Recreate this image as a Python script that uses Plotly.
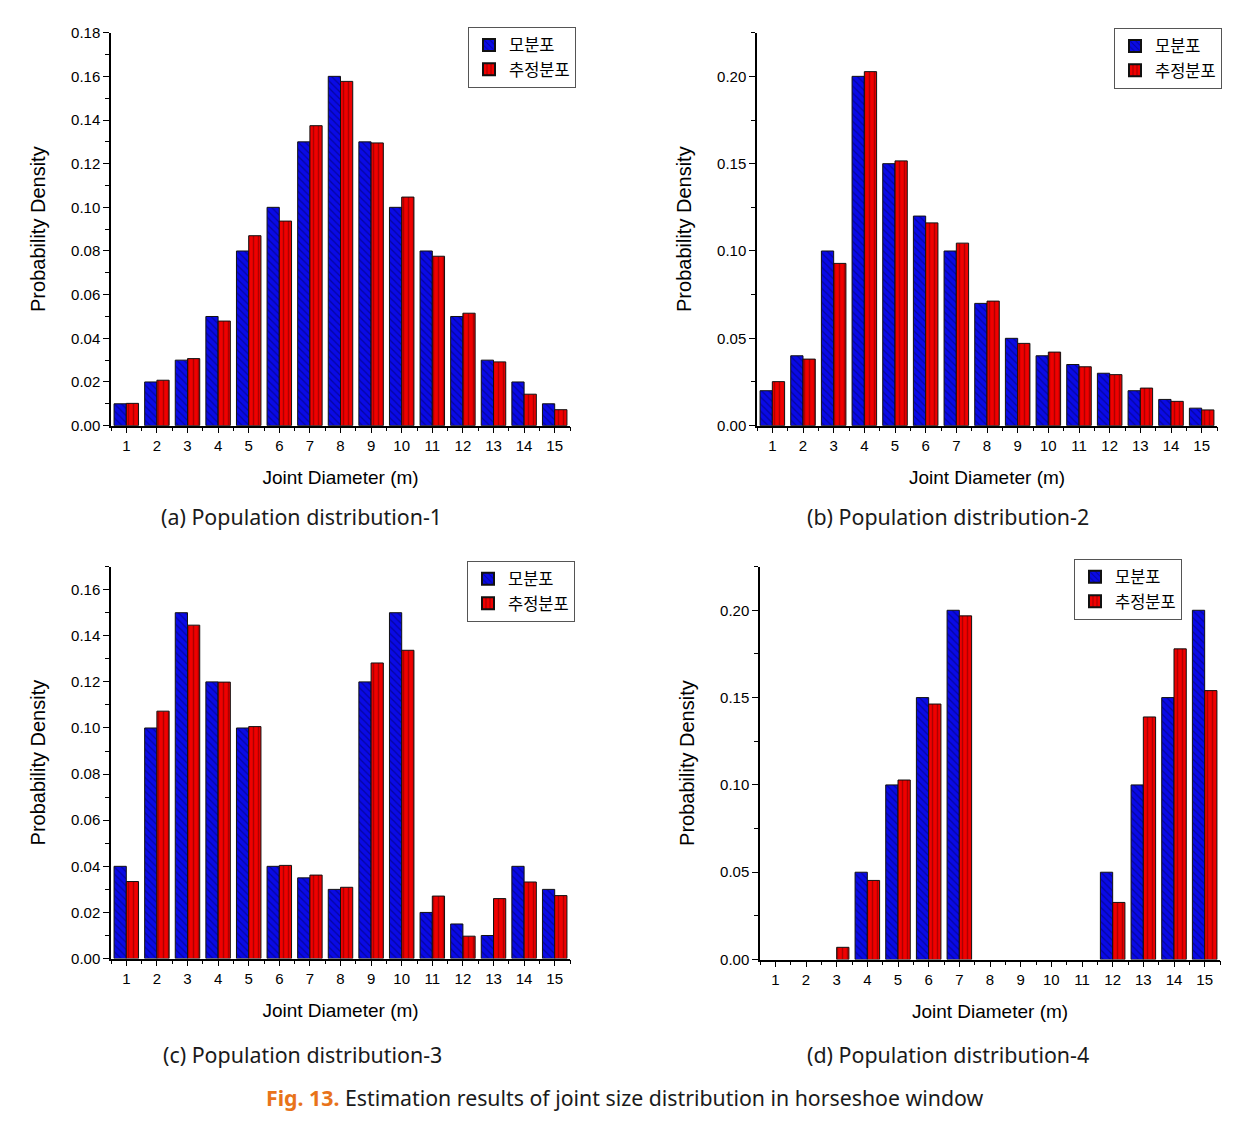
import plotly.graph_objects as go

categories = list(range(1, 15 + 1))
tick_labels = [str(c) for c in categories]

pop1 = [0.01, 0.02, 0.03, 0.05, 0.08, 0.10, 0.13, 0.16, 0.13, 0.10, 0.08, 0.05, 0.03, 0.02, 0.01]
est1 = [0.0102, 0.0208, 0.0307, 0.0479, 0.0870, 0.0937, 0.1374, 0.1577, 0.1295, 0.1047, 0.0776, 0.0515, 0.0292, 0.0144, 0.0073]

pop2 = [0.02, 0.04, 0.10, 0.20, 0.15, 0.12, 0.10, 0.07, 0.05, 0.04, 0.035, 0.03, 0.02, 0.015, 0.01]
est2 = [0.0252, 0.0381, 0.0929, 0.2027, 0.1516, 0.1161, 0.1045, 0.0713, 0.0471, 0.0421, 0.0337, 0.0292, 0.0215, 0.0139, 0.0090]

pop3 = [0.04, 0.10, 0.15, 0.12, 0.10, 0.04, 0.035, 0.03, 0.12, 0.15, 0.02, 0.015, 0.01, 0.04, 0.03]
est3 = [0.0334, 0.1073, 0.1446, 0.1199, 0.1006, 0.0404, 0.0362, 0.0309, 0.1282, 0.1337, 0.0271, 0.0097, 0.0260, 0.0332, 0.0273]

pop4 = [0, 0, 0, 0.05, 0.10, 0.15, 0.20, 0, 0, 0, 0, 0.05, 0.10, 0.15, 0.20]
est4 = [0, 0, 0.0070, 0.0453, 0.1028, 0.1463, 0.1968, 0, 0, 0, 0, 0.0327, 0.1389, 0.1779, 0.1540]

series_names = ["모분포", "추정분포"]
captions = ["(a) Population distribution-1", "(b) Population distribution-2",
            "(c) Population distribution-3", "(d) Population distribution-4"]
y_max = [0.18, 0.225, 0.17, 0.225]
y_dtick = [0.02, 0.05, 0.02, 0.05]

W, H = 1254, 1121
Y_OFF, Y_SCALE = 9.3, 0.985
def px(x): return x / W
def py(y): return 1 - ((y - Y_OFF) / Y_SCALE) / H

# panel geometry in reference pixels: (left, right, top, bottom)
panels = [(111, 570, 33, 426), (757, 1217, 33, 426), (111, 570, 567, 959), (760, 1220, 567, 960)]
legend_pos = [(576, 27), (1222, 28), (575, 561), (1182, 559)]
caption_pos = [(301, 517), (948, 517), (302, 1055), (948, 1055)]

data = [(pop1, est1), (pop2, est2), (pop3, est3), (pop4, est4)]

fig = go.Figure()
layout = {}
AX_FONT = "Liberation Sans, Arial, sans-serif"
for i, ((p, e), (l, r, t, b)) in enumerate(zip(data, panels)):
    n = "" if i == 0 else str(i + 1)
    leg = "legend" if i == 0 else f"legend{i+1}"
    fig.add_trace(go.Bar(
        x=categories, y=p, name=series_names[0], xaxis="x" + n, yaxis="y" + n, legend=leg,
        marker=dict(color="#0A0AE6", line=dict(color="#111111", width=[1 if v > 0 else 0 for v in p]),
                    pattern=dict(shape="\\", fgcolor="#00005A", size=5, solidity=0.25, fillmode="overlay")),
    ))
    fig.add_trace(go.Bar(
        x=categories, y=e, name=series_names[1], xaxis="x" + n, yaxis="y" + n, legend=leg,
        marker=dict(color="#F00000", line=dict(color="#111111", width=[1 if v > 0 else 0 for v in e]),
                    pattern=dict(shape="|", fgcolor="#6A0000", size=5, solidity=0.3, fillmode="overlay")),
    ))
    layout["xaxis" + n] = dict(
        domain=[px(l), px(r)], anchor="y" + n, range=[0.5, 15.5],
        tickmode="array", tickvals=categories, ticktext=tick_labels,
        showline=True, linecolor="black", linewidth=1.5, ticks="outside", ticklen=6, tickwidth=1.3,
        tickcolor="black", showgrid=False, zeroline=False,
        tickfont=dict(family=AX_FONT, size=15, color="black"),
        minor=dict(tickvals=[c + 0.5 for c in [0] + categories], ticks="outside", ticklen=4, tickwidth=1.2, tickcolor="black"),
        title=dict(text="Joint Diameter (m)", font=dict(family=AX_FONT, size=19, color="black"), standoff=17),
    )
    layout["yaxis" + n] = dict(
        domain=[py(b), py(t)], anchor="x" + n, range=[0, y_max[i]],
        dtick=y_dtick[i], tick0=0, tickformat=".2f",
        showline=True, linecolor="black", linewidth=1.5, ticks="outside", ticklen=6, tickwidth=1.3,
        tickcolor="black", showgrid=False, zeroline=False,
        tickfont=dict(family=AX_FONT, size=15, color="black"),
        minor=dict(dtick=y_dtick[i] / 2, ticks="outside", ticklen=4, tickwidth=1.2, tickcolor="black"),
        title=dict(text="Probability Density", font=dict(family=AX_FONT, size=20, color="black"), standoff=20),
    )
    lx, ly = legend_pos[i]
    layout[leg] = dict(
        x=px(lx), y=py(ly), xanchor="right", yanchor="top",
        bgcolor="white", bordercolor="#555555", borderwidth=1,
        font=dict(family="Noto Sans CJK KR, sans-serif", size=16.5, color="black"),
        tracegroupgap=0, itemsizing="constant",
    )

annotations = []
for (cx, cy), cap in zip(caption_pos, captions):
    annotations.append(dict(
        x=px(cx), y=py(cy), xref="paper", yref="paper", text=cap, showarrow=False,
        xanchor="center", yanchor="middle",
        font=dict(family="Noto Sans, sans-serif", size=21.4, color="#1A1A1A"),
    ))
annotations.append(dict(
    x=px(625), y=py(1098), xref="paper", yref="paper", showarrow=False,
    xanchor="center", yanchor="middle",
    text="<b><span style='color:#E8731A'>Fig. 13.</span></b> Estimation results of joint size distribution in horseshoe window",
    font=dict(family="Noto Sans, sans-serif", size=21.3, color="#1A1A1A"),
))

fig.update_layout(
    width=W, height=H, margin=dict(l=0, r=0, t=0, b=0),
    paper_bgcolor="white", plot_bgcolor="white",
    barmode="group", bargap=0.2, bargroupgap=0,
    annotations=annotations, **layout,
)
fig.write_html("out.html", config={"displayModeBar": False},
               post_script="document.body.style.margin='0';document.body.style.overflow='hidden';")
